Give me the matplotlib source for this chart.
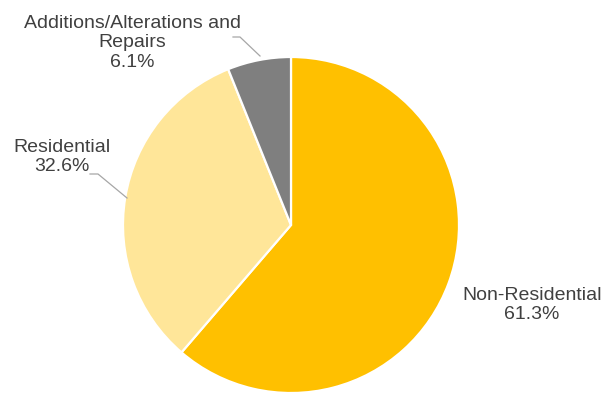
import matplotlib
matplotlib.use("Agg")
import matplotlib.pyplot as plt

categories = ["Non-Residential", "Residential", "Additions/Alterations and\nRepairs"]
values = [61.3, 32.6, 6.1]
colors = ["#FFC000", "#FFE699", "#7F7F7F"]

W, H = 610, 394
CX, CY, R = 291, 225, 168

def d(px, py):
    return ((px - CX) / R, (CY - py) / R)

fig = plt.figure(figsize=(W / 100, H / 100), dpi=100)
ax = fig.add_axes([0, 0, 1, 1])

ax.pie(values, colors=colors, startangle=90, counterclock=False, radius=1,
       wedgeprops=dict(edgecolor="white", linewidth=1.6))
ax.set_aspect("auto")
ax.set_xlim(-CX / R, (W - CX) / R)
ax.set_ylim(-(H - CY) / R, CY / R)
ax.axis("off")

font = dict(family=["Liberation Sans", "DejaVu Sans"], size=14, color="#404040",
            ha="center", va="center", linespacing=1.2)

label_pos = [(532, 305), (62, 157), (132, 43)]
for cat, v, (px, py) in zip(categories, values, label_pos):
    x, y = d(px, py)
    ax.text(x, y, f"{cat}\n{v:.1f}%", **font)

leaders = [
    [(233, 37), (240, 37), (260, 56)],
    [(90, 174), (98, 174), (127, 198)],
]
for pts in leaders:
    xs, ys = zip(*[d(*p) for p in pts])
    ax.plot(xs, ys, color="#A6A6A6", lw=0.9)

fig.savefig("out.png", dpi=100)
